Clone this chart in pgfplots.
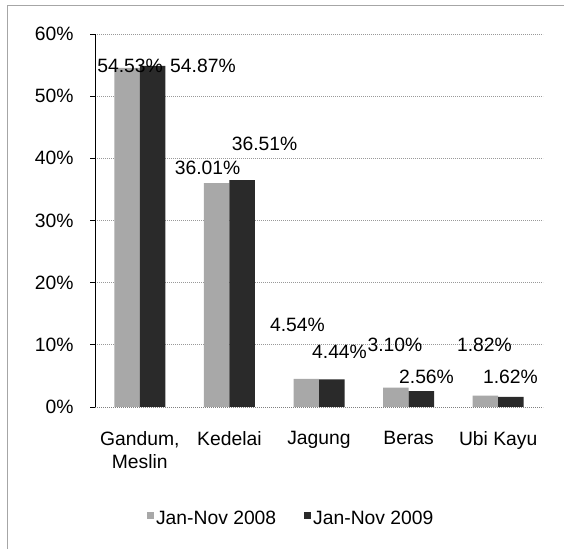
\documentclass[border=0pt]{standalone}
\usepackage{pgfplots}
\pgfplotsset{compat=1.18}
\usepackage{fontspec}
\setmainfont{Liberation Sans}
\definecolor{lightbar}{HTML}{A8A8A8}
\definecolor{darkbar}{HTML}{2A2A2A}
\begin{document}
\begin{tikzpicture}[x=1bp,y=1bp,font=\fontsize{19.3bp}{23bp}\selectfont]
\path[use as bounding box] (0,0) rectangle (564,549);
\draw[gray!70,line width=1bp] (7,0) -- (7,543) -- (564,543);
\begin{axis}[
  at={(95bp,142bp)}, anchor=south west,
  scale only axis, width=448bp, height=373bp,
  xmin=-0.5, xmax=4.5, ymin=0, ymax=60,
  axis lines*=left,
  x axis line style={gray, dash pattern=on 1bp off 1bp, line width=0.8bp},
  y axis line style={black, line width=0.8bp},
  ybar=0pt, bar width=25.5bp,
  xtick={0,1,2,3,4},
  xticklabels={{Gandum,\\Meslin},Kedelai,Jagung,Beras,Ubi Kayu},
  xticklabel style={align=center, yshift=-16bp},
  x tick style={draw=none},
  minor xtick={-0.5,0.5,1.5,2.5,3.5,4.5},
  minor x tick style={gray, line width=0.6bp},
  minor tick length=4bp,
  ytick={0,10,20,30,40,50,60},
  yticklabels={0\%,10\%,20\%,30\%,40\%,50\%,60\%},
  yticklabel style={xshift=-13bp},
  y tick style={black, line width=0.8bp},
  major tick length=5bp,
  tick align=outside,
  ymajorgrids,
  major grid style={gray!80, dash pattern=on 1bp off 1bp, line width=0.7bp},
  legend columns=2,
  legend style={at={(0.438,-0.298)}, anchor=center, draw=none, fill=none,
    /tikz/every even column/.append style={column sep=26bp},
    font=\fontsize{19.3bp}{23bp}\selectfont},
  legend image code/.code={\fill[#1] (0bp,-0.5bp) rectangle (7bp,6.5bp);},
]
\addplot[fill=lightbar, draw=none] coordinates {(0,54.53) (1,36.01) (2,4.54) (3,3.10) (4,1.82)};
\addplot[fill=darkbar, draw=none] coordinates {(0,54.87) (1,36.51) (2,4.44) (3,2.56) (4,1.62)};
\legend{Jan-Nov 2008, Jan-Nov 2009}
\begin{scope}[every node/.style={inner sep=0pt, anchor=center}]
\node at (axis cs:-0.109,54.8) {54.53\%};
\node at (axis cs:0.705,54.8) {54.87\%};
\node at (axis cs:0.756,38.4) {36.01\%};
\node at (axis cs:1.392,42.4) {36.51\%};
\node at (axis cs:1.76,13.2) {4.54\%};
\node at (axis cs:2.229,8.84) {4.44\%};
\node at (axis cs:2.848,9.97) {3.10\%};
\node at (axis cs:3.20,4.82) {2.56\%};
\node at (axis cs:3.847,9.97) {1.82\%};
\node at (axis cs:4.137,4.82) {1.62\%};
\end{scope}
\end{axis}
\end{tikzpicture}
\end{document}
